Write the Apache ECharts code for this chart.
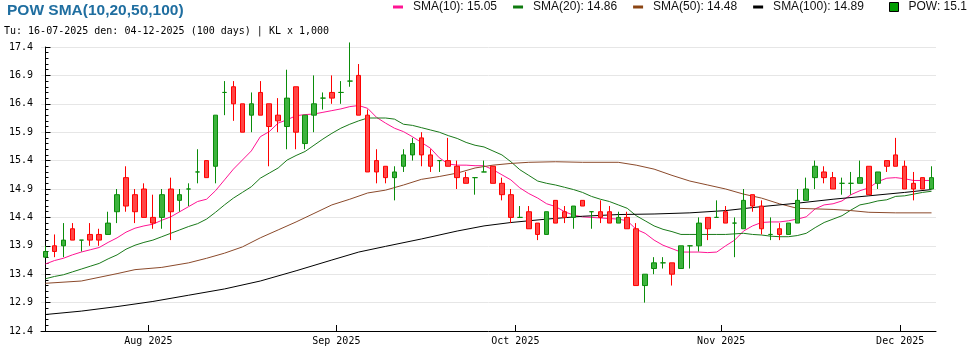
<!DOCTYPE html>
<html><head><meta charset="utf-8">
<script src="https://cdn.jsdelivr.net/npm/echarts@6/dist/echarts.min.js"></script>
<style>html,body{margin:0;padding:0;background:#fff}#c{width:970px;height:350px}</style>
</head><body><div id="c"></div>
<script>
const dates = [
'16-07-2025','17-07-2025','18-07-2025','21-07-2025','22-07-2025','23-07-2025','24-07-2025','25-07-2025','28-07-2025','29-07-2025','30-07-2025','31-07-2025',
'01-08-2025','04-08-2025','05-08-2025','06-08-2025','07-08-2025','08-08-2025','11-08-2025','12-08-2025','13-08-2025','14-08-2025','15-08-2025','18-08-2025','19-08-2025','20-08-2025','21-08-2025','22-08-2025','25-08-2025','26-08-2025','27-08-2025','28-08-2025','29-08-2025',
'03-09-2025','04-09-2025','05-09-2025','08-09-2025','09-09-2025','10-09-2025','11-09-2025','12-09-2025','15-09-2025','16-09-2025','17-09-2025','18-09-2025','19-09-2025','22-09-2025','23-09-2025','24-09-2025','25-09-2025','26-09-2025','29-09-2025','30-09-2025',
'01-10-2025','02-10-2025','03-10-2025','06-10-2025','07-10-2025','08-10-2025','09-10-2025','10-10-2025','13-10-2025','14-10-2025','15-10-2025','16-10-2025','17-10-2025','20-10-2025','21-10-2025','22-10-2025','23-10-2025','24-10-2025','27-10-2025','28-10-2025','29-10-2025','30-10-2025','31-10-2025',
'03-11-2025','04-11-2025','05-11-2025','06-11-2025','07-11-2025','10-11-2025','11-11-2025','12-11-2025','13-11-2025','14-11-2025','17-11-2025','18-11-2025','19-11-2025','20-11-2025','21-11-2025','24-11-2025','25-11-2025','26-11-2025','27-11-2025','28-11-2025',
'01-12-2025','02-12-2025','03-12-2025','04-12-2025'];

const opens = [13.7,13.9,13.9,14.2,14.0,14.1,14.1,14.1,14.5,15.1,
14.8,14.9,14.4,14.4,14.9,14.7,14.9,15.2,15.4,15.3,
16.6,16.7,16.4,16.2,16.6,16.4,16.2,16.0,16.7,15.7,
16.2,16.5,16.6,16.6,16.8,16.9,16.2,15.4,15.3,15.1,
15.3,15.5,15.8,15.5,15.4,15.4,15.3,15.1,15.1,15.2,
15.3,15.0,14.8,14.4,14.5,14.3,14.1,14.7,14.5,14.4,
14.7,14.5,14.5,14.5,14.3,14.4,14.2,13.2,13.5,13.6,
13.6,13.5,13.9,13.9,14.4,14.4,14.5,14.3,14.2,14.8,
14.6,14.1,14.2,14.1,14.3,14.7,15.1,15.2,15.1,15.0,
15.0,15.0,15.3,15.0,15.4,15.5,15.3,15.0,15.1,14.9];
const closes = [13.8,13.8,14.0,14.0,14.0,14.0,14.0,14.3,14.8,14.6,
14.5,14.4,14.3,14.8,14.5,14.8,14.9,15.2,15.1,16.2,
16.6,16.4,15.9,16.4,16.2,16.0,16.1,16.5,15.9,16.2,
16.4,16.5,16.5,16.6,16.8,16.2,15.2,15.2,15.1,15.2,
15.5,15.7,15.5,15.3,15.4,15.3,15.1,15.0,15.1,15.2,
15.0,14.8,14.4,14.4,14.2,14.1,14.5,14.3,14.4,14.6,
14.6,14.5,14.4,14.3,14.4,14.2,13.2,13.4,13.6,13.6,
13.4,13.9,13.9,14.3,14.2,14.4,14.3,14.3,14.7,14.6,
14.2,14.1,14.1,14.3,14.7,14.9,15.3,15.1,14.9,15.0,
15.0,15.1,14.8,15.2,15.3,15.3,14.9,14.9,14.9,15.1];
const lows = [13.7,13.7,13.7,14.0,13.8,13.9,13.9,14.1,14.3,14.5,
14.3,14.4,14.2,14.2,14.0,14.5,14.6,15.0,15.1,15.0,
16.2,16.1,15.9,15.9,16.2,15.3,15.9,15.6,15.6,15.6,
15.9,16.3,16.4,16.4,16.7,16.2,15.2,15.0,15.0,14.7,
15.2,15.4,15.3,15.2,15.2,15.3,14.9,15.0,14.8,15.2,
15.0,14.7,14.3,14.4,14.2,14.0,14.1,14.3,14.3,14.2,
14.6,14.2,14.3,14.3,14.3,14.2,13.2,12.9,13.4,13.5,
13.2,13.5,13.5,13.8,14.0,14.4,14.3,13.7,14.2,14.5,
14.1,14.0,14.0,14.1,14.3,14.7,14.9,15.0,14.9,14.8,
14.8,15.0,14.8,14.9,15.2,15.3,14.9,14.7,14.9,14.9];
const highs = [13.9,14.1,14.3,14.3,14.0,14.3,14.2,14.5,14.9,15.3,
14.9,15.0,14.8,14.9,15.1,14.9,15.0,15.6,15.4,16.2,
16.8,16.8,16.4,16.6,16.8,16.4,16.5,17.0,16.7,16.2,
16.9,16.6,16.9,16.8,17.48,17.1,16.3,15.6,15.3,15.3,
15.6,15.8,15.9,15.6,15.4,15.8,15.4,15.2,15.1,15.4,
15.3,15.1,14.9,14.6,14.6,14.3,14.5,14.7,14.6,14.6,
14.7,14.5,14.7,14.6,14.5,14.5,14.3,13.4,13.7,13.7,
13.6,13.9,13.9,14.4,14.4,14.7,14.6,14.4,14.9,14.8,
14.7,14.4,14.3,14.3,14.9,15.1,15.4,15.3,15.2,15.1,
15.2,15.4,15.3,15.2,15.4,15.8,15.4,15.2,15.1,15.3];

const sma10 = [13.58,13.64,13.68,13.74,13.79,13.83,13.87,13.96,14.04,14.14,
14.21,14.25,14.28,14.35,14.41,14.50,14.59,14.68,14.72,14.87,
15.06,15.25,15.41,15.57,15.82,15.91,16.06,16.12,16.19,16.21,
16.22,16.25,16.28,16.31,16.35,16.37,16.32,16.16,16.06,15.97,
15.91,15.82,15.72,15.62,15.45,15.34,15.32,15.32,15.31,15.31,
15.24,15.15,15.06,14.92,14.82,14.74,14.64,14.59,14.50,14.44,
14.41,14.40,14.39,14.38,14.37,14.34,14.19,14.12,14.00,13.91,
13.85,13.79,13.79,13.79,13.78,13.79,13.90,14.00,14.16,14.25,
14.31,14.32,14.32,14.34,14.37,14.41,14.55,14.62,14.64,14.69,
14.80,14.87,14.92,15.03,15.09,15.10,15.08,15.05,15.05,15.05];
const sma20 = [13.32,13.36,13.39,13.44,13.49,13.54,13.59,13.67,13.74,13.84,
13.91,13.96,14.00,14.06,14.12,14.18,14.24,14.29,14.37,14.49,
14.62,14.74,14.84,14.94,15.09,15.18,15.27,15.41,15.49,15.56,
15.67,15.78,15.88,15.97,16.04,16.10,16.15,16.15,16.15,16.13,
16.04,16.02,15.98,15.94,15.90,15.84,15.79,15.72,15.67,15.64,
15.57,15.50,15.38,15.24,15.14,15.04,15.00,14.97,14.93,14.89,
14.84,14.77,14.72,14.68,14.62,14.56,14.43,14.34,14.25,14.19,
14.15,14.10,14.10,14.10,14.10,14.10,14.10,14.11,14.12,14.10,
14.09,14.07,14.06,14.06,14.08,14.12,14.22,14.31,14.37,14.43,
14.53,14.62,14.65,14.69,14.71,14.77,14.78,14.81,14.84,14.86];
const sma50Days = [0,4,8,10,13,16,18,20,22,24,26,28,30,32,34,36,38,40,42,44,46,48,50,52,54,57,60,64,66,68,70,72,74,76,78,80,82,84,86,88,90,92,95,99];
const sma50 = [13.24,13.28,13.41,13.48,13.52,13.60,13.68,13.77,13.88,14.04,14.18,14.32,14.47,14.62,14.72,14.83,14.88,14.97,15.07,15.12,15.18,15.27,15.32,15.35,15.37,15.38,15.37,15.37,15.32,15.25,15.14,15.04,14.97,14.90,14.81,14.74,14.64,14.56,14.55,14.54,14.52,14.49,14.48,14.48];
const sma100Days = [0,4,8,12,16,20,24,28,32,35,38,42,46,49,52,56,60,64,68,72,76,80,84,88,92,96,99];
const sma100 = [12.69,12.75,12.83,12.92,13.03,13.14,13.28,13.46,13.65,13.79,13.89,14.02,14.16,14.25,14.31,14.37,14.42,14.45,14.46,14.48,14.52,14.59,14.65,14.72,14.78,14.84,14.89];
const monthNames = ['Jan','Feb','Mar','Apr','May','Jun','Jul','Aug','Sep','Oct','Nov','Dec'];

const UP_FILL = '#3db33d', UP_BORDER = '#0a8c0a', DN_FILL = '#ff4646', DN_BORDER = '#ff0000';
const candleData = dates.map((d, i) => {
  const v = [opens[i], closes[i], lows[i], highs[i]];
  if (opens[i] === closes[i]) {
    return {value: v, itemStyle: {color: UP_FILL, color0: UP_FILL, borderColor: UP_BORDER, borderColor0: UP_BORDER, borderColorDoji: UP_BORDER}};
  }
  return v;
});
const monthTicks = [], monthLabelMap = {};
for (let i = 1; i < dates.length; i++) {
  if (dates[i].slice(3, 5) !== dates[i - 1].slice(3, 5)) {
    const t = i - 0.5;
    monthTicks.push(t);
    monthLabelMap[t] = monthNames[+dates[i].slice(3, 5) - 1] + ' ' + dates[i].slice(6);
  }
}
const last = a => a[a.length - 1];
const legendVals = {
  'SMA(10)': last(sma10).toFixed(2), 'SMA(20)': last(sma20).toFixed(2),
  'SMA(50)': last(sma50).toFixed(2), 'SMA(100)': last(sma100).toFixed(2),
  'POW': String(last(closes))
};
const subtitle = 'Tu: ' + dates[0] + ' den: ' + last(dates) + ' (' + dates.length + ' days) | KL x 1,000';
const legendText = {fontFamily: 'Liberation Sans', fontSize: 12, color: '#111', rich: {s: {width: 5}}};
const mono = 'DejaVu Sans Mono';

const chart = echarts.init(document.getElementById('c'), null, {renderer: 'canvas'});
chart.setOption({
  animation: false,
  backgroundColor: '#fff',
  title: [
    {text: 'POW SMA(10,20,50,100)', left: 7, top: 3, padding: 0,
     textStyle: {fontFamily: 'Liberation Sans', fontWeight: 'bold', fontSize: 15.5, color: '#1f6ea0'}},
    {text: subtitle, left: 4, top: 26, padding: 0,
     textStyle: {fontFamily: mono, fontWeight: 'normal', fontSize: 10, color: '#000'}}
  ],
  legend: [
    {data: ['SMA(10)', 'SMA(20)', 'SMA(50)', 'SMA(100)'], left: 393, top: 1, padding: 0,
     icon: 'rect', itemWidth: 10, itemHeight: 3, itemGap: 16, selectedMode: false,
     formatter: n => '{s| }' + n + ': ' + legendVals[n], textStyle: legendText},
    {data: ['POW'], left: 889, top: 1, padding: 0, icon: 'rect', itemWidth: 9, itemHeight: 9, selectedMode: false,
     itemStyle: {color: '#009c00', borderColor: '#000', borderWidth: 1},
     formatter: n => '{s| }' + n + ': ' + legendVals[n], textStyle: legendText}
  ],
  grid: {left: 41, right: 34, top: 47, bottom: 19},
  xAxis: [
    {type: 'category', data: dates, show: false, boundaryGap: true},
    {type: 'value', min: -0.5, max: 99.5, position: 'bottom',
     axisLine: {show: true, onZero: false, lineStyle: {color: '#000', width: 1}},
     axisTick: {show: true, inside: true, length: 6, customValues: monthTicks, lineStyle: {color: '#000'}},
     axisLabel: {customValues: monthTicks, formatter: v => monthLabelMap[v] || '', margin: 5,
                 fontFamily: mono, fontSize: 10, color: '#000'},
     splitLine: {show: false}}
  ],
  yAxis: {
    type: 'value', min: 12.4, max: 17.4, interval: 0.5,
    axisLine: {show: true, lineStyle: {color: '#000'}},
    axisTick: {show: true, inside: true, length: 5, lineStyle: {color: '#000'}},
    minorTick: {show: true, splitNumber: 5, length: 3, lineStyle: {color: '#000'}},
    axisLabel: {formatter: v => v.toFixed(1), margin: 8, fontFamily: mono, fontSize: 10, color: '#000'},
    splitLine: {show: true, lineStyle: {color: '#e6e6e6', width: 1}}
  },
  series: [
    {name: 'SMA(10)', type: 'line', xAxisIndex: 1, symbol: 'none', color: '#ff1493', z: 2,
     lineStyle: {width: 1, color: '#ff1493'}, data: sma10.map((v, i) => [i, v])},
    {name: 'SMA(20)', type: 'line', xAxisIndex: 1, symbol: 'none', color: '#0e7a0e', z: 2,
     lineStyle: {width: 1, color: '#1a7a1a'}, data: sma20.map((v, i) => [i, v])},
    {name: 'SMA(50)', type: 'line', xAxisIndex: 1, symbol: 'none', color: '#8b4513', z: 2,
     lineStyle: {width: 1, color: '#8b4a2b'}, data: sma50.map((v, k) => [sma50Days[k], v])},
    {name: 'SMA(100)', type: 'line', xAxisIndex: 1, symbol: 'none', color: '#000', z: 2,
     lineStyle: {width: 1, color: '#000'}, data: sma100.map((v, k) => [sma100Days[k], v])},
    {name: 'POW', type: 'candlestick', xAxisIndex: 0, yAxisIndex: 0, data: candleData, barWidth: 5, clip: false, z: 5,
     itemStyle: {color: UP_FILL, color0: DN_FILL, borderColor: UP_BORDER, borderColor0: DN_BORDER, borderWidth: 1}}
  ]
});
</script></body></html>
